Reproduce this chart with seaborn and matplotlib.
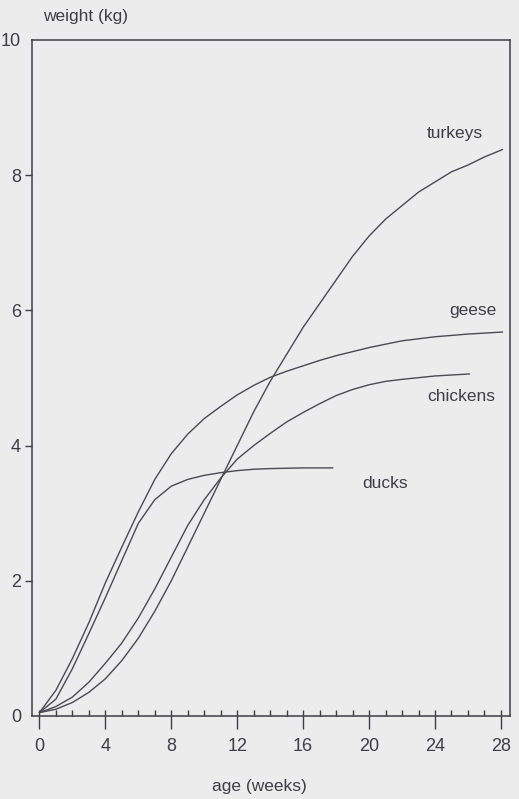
import numpy as np
import pandas as pd
import matplotlib
matplotlib.use("Agg")
import matplotlib.pyplot as plt
from matplotlib.ticker import MultipleLocator
import seaborn as sns

# ---- data (age in weeks, weight in kg) ----
turkeys_weeks = [0, 1, 2, 3, 4, 5, 6, 7, 8, 9, 10, 11, 12, 13, 14, 15, 16, 17, 18, 19,
                 20, 21, 22, 23, 24, 25, 26, 27, 28.1]
turkeys_kg    = [0.05, 0.10, 0.20, 0.35, 0.55, 0.82, 1.15, 1.55, 2.0, 2.5, 3.0, 3.5, 4.0,
                 4.5, 4.95, 5.35, 5.75, 6.1, 6.45, 6.8, 7.1, 7.35, 7.55, 7.75, 7.9, 8.05,
                 8.15, 8.27, 8.38]

geese_weeks = [0, 1, 2, 3, 4, 5, 6, 7, 8, 9, 10, 11, 12, 13, 14, 15, 16, 17, 18, 19,
               20, 22, 24, 26, 28.1]
geese_kg    = [0.05, 0.38, 0.85, 1.38, 1.97, 2.5, 3.02, 3.5, 3.88, 4.17, 4.4, 4.58, 4.75,
               4.89, 5.01, 5.1, 5.18, 5.26, 5.33, 5.39, 5.45, 5.55, 5.61, 5.65, 5.68]

chickens_weeks = [0, 1, 2, 3, 4, 5, 6, 7, 8, 9, 10, 11, 12, 13, 14, 15, 16, 17, 18, 19,
                  20, 21, 22, 24, 26.1]
chickens_kg    = [0.05, 0.14, 0.28, 0.5, 0.78, 1.08, 1.45, 1.88, 2.35, 2.82, 3.2, 3.52,
                  3.8, 4.0, 4.18, 4.35, 4.49, 4.62, 4.74, 4.83, 4.9, 4.95, 4.98, 5.03, 5.06]

ducks_weeks = [0, 1, 2, 3, 4, 5, 6, 7, 8, 9, 10, 11, 12, 13, 14, 16, 17.8]
ducks_kg    = [0.05, 0.25, 0.7, 1.22, 1.75, 2.3, 2.85, 3.2, 3.4, 3.5, 3.56, 3.6, 3.63,
               3.65, 3.66, 3.67, 3.67]

species = ["turkeys", "geese", "chickens", "ducks"]
label_weeks = [25.2, 26.3, 25.6, 21.0]
label_kg = [8.62, 6.0, 4.73, 3.44]

x_ticks = [0, 4, 8, 12, 16, 20, 24, 28]
y_ticks = [0, 2, 4, 6, 8, 10]

# ---- build long-form table ----
frames = []
for name, w, k in [("turkeys", turkeys_weeks, turkeys_kg),
                   ("geese", geese_weeks, geese_kg),
                   ("chickens", chickens_weeks, chickens_kg),
                   ("ducks", ducks_weeks, ducks_kg)]:
    frames.append(pd.DataFrame({"age": w, "weight": k, "species": name}))
df = pd.concat(frames, ignore_index=True)

sns.set_style("white")
plt.rcParams["font.family"] = ["Liberation Sans", "DejaVu Sans"]

paper = "#ececec"
ink = "#3e3e46"
line_col = "#4a4a54"

fig = plt.figure(figsize=(5.19, 7.99), dpi=100, facecolor=paper)
ax = fig.add_axes([32 / 519, 1 - 716 / 799, 478 / 519, 676 / 799])
ax.set_facecolor(paper)

sns.lineplot(data=df, x="age", y="weight", hue="species",
             palette={s: line_col for s in species},
             sort=False, estimator=None, legend=False,
             linewidth=1.0, ax=ax)

ax.set_xlim(-0.45, 28.55)
ax.set_ylim(0, 10)
ax.set_xlabel("")
ax.set_ylabel("")

for sp in ax.spines.values():
    sp.set_visible(True)
    sp.set_color(ink)
    sp.set_linewidth(1.1)

ax.set_xticks(x_ticks)
ax.set_xticklabels([str(t) for t in x_ticks])
ax.xaxis.set_minor_locator(MultipleLocator(1))
ax.xaxis.remove_overlapping_locs = False
ax.tick_params(axis="x", which="major", direction="out", length=9, width=1.0,
               color=ink, labelcolor=ink, labelsize=13, pad=7, bottom=True)
ax.tick_params(axis="x", which="minor", direction="in", length=4, width=1.0,
               color=ink, bottom=True)

ax.set_yticks(y_ticks)
ax.set_yticklabels([str(t) for t in y_ticks])
ax.tick_params(axis="y", which="major", direction="out", length=5, width=1.0,
               color=ink, labelcolor=ink, labelsize=13, pad=3, left=True)
yt = ax.yaxis.get_major_ticks()
yt[0].tick1line.set_visible(False)
yt[-1].tick1line.set_visible(False)

for name, lx, ly in zip(species, label_weeks, label_kg):
    ax.text(lx, ly, name, ha="center", va="center", fontsize=12.5, color=ink)

fig.text(43 / 519, 1 - 17 / 799, "weight (kg)", ha="left", va="center",
         fontsize=12.5, color=ink)
fig.text(259 / 519, 1 - 787 / 799, "age (weeks)", ha="center", va="center",
         fontsize=12.5, color=ink)

fig.savefig("out.png", dpi=100, facecolor=paper)
